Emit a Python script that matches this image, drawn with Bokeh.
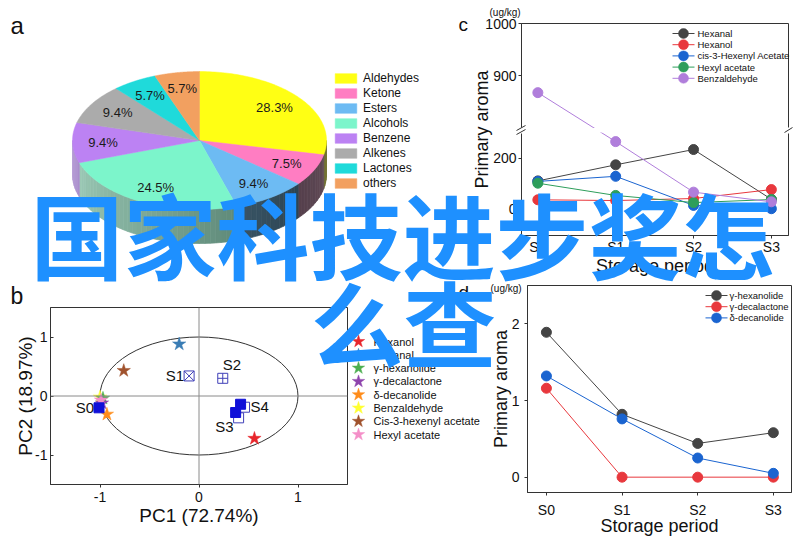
import numpy as np
from bokeh.plotting import figure
from bokeh.layouts import column
from bokeh.models import (Range1d, FixedTicker, Legend, LegendItem, Label, Span,
                          ColumnDataSource, BoxAnnotation)
from bokeh.embed import file_html
from bokeh.resources import INLINE
from bokeh.core.properties import value

W, H = 800, 538
FONT = "Liberation Sans"

# ---------------- data ----------------
pie_labels = ["Aldehydes", "Ketone", "Esters", "Alcohols", "Benzene", "Alkenes", "Lactones", "others"]
pie_values = [28.3, 7.5, 9.4, 24.5, 9.4, 9.4, 5.7, 5.7]

pca_vars = ["Hexanol", "Hexanal", "γ-hexanolide", "γ-decalactone", "δ-decanolide",
            "Benzaldehyde", "Cis-3-hexenyl acetate", "Hexyl acetate"]
pca_var_x = [0.56, -0.20, -0.97, -0.98, -0.93, -1.00, -0.76, -0.99]
pca_var_y = [-0.72, 0.88, -0.04, -0.12, -0.31, -0.02, 0.43, -0.07]

sample_names = ["S0", "S1", "S2", "S3", "S3", "S4", "S4"]
sample_x = [-1.01, -0.10, 0.24, 0.37, 0.40, 0.42, 0.46]
sample_y = [-0.20, 0.34, 0.30, -0.28, -0.37, -0.14, -0.19]

periods = ["S0", "S1", "S2", "S3"]
c_series = ["Hexanal", "Hexanol", "cis-3-Hexenyl Acetate", "Hexyl acetate", "Benzaldehyde"]
hexanal = [112, 175, 235, 40]
hexanol = [38, 35, 43, 78]
cis3_hexenyl_acetate = [110, 130, 16, 3]
hexyl_acetate = [103, 55, 27, 39]
benzaldehyde = [867, 266, 68, 30]
c_ticks = [0, 200, 900, 1000]

d_series = ["γ-hexanolide", "γ-decalactone", "δ-decanolide"]
g_hexanolide = [1.89, 0.82, 0.44, 0.58]
g_decalactone = [1.16, 0.0, 0.0, 0.0]
d_decanolide = [1.32, 0.76, 0.25, 0.05]

# ---------------- styles ----------------
pie_top_colors = ["#FFFF14", "#FF7DC2", "#6DBBF3", "#7CF5CB", "#BC82F3", "#ABABAB", "#1FDADA", "#F2A060"]
side_right = ["#7a7a38", "#604a56", "#2c4452", "#5f8a79", "#a98ccc", "#777777", "#168a8a", "#9a6a40"]
side_left = ["#6e6e30", "#55404c", "#3a5566", "#9cc9b6", "#b9a2d8", "#888888", "#20a0a0", "#b07a48"]
star_colors = ["#E8262C", "#3A7DB5", "#4CAF50", "#8E44AD", "#FF8C1A", "#FFFF33", "#A0522D", "#F48FC8"]
line_colors = ["#444444", "#E8383D", "#1A64D0", "#2E9E5B", "#B07EDB"]
d_colors = ["#444444", "#E8383D", "#1A64D0"]
AX = "#333333"
TXT = "#111111"


def make_fig(xr, yr, left, right, top, bottom, axes=True):
    kw = dict(width=W, height=H, x_range=xr, y_range=yr, output_backend="svg",
              toolbar_location=None, min_border_left=left, min_border_right=right,
              min_border_top=top, min_border_bottom=bottom, frame_align=False,
              background_fill_color=None, border_fill_color=None)
    if not axes:
        kw.update(x_axis_type=None, y_axis_type=None)
    p = figure(**kw)
    p.outline_line_color = AX if axes else None
    if axes:
        p.grid.visible = False
        for ax in p.axis:
            ax.axis_line_color = AX
            ax.major_tick_line_color = AX
            ax.minor_tick_line_color = None
            ax.major_tick_out = 3
            ax.major_tick_in = 0
            ax.major_label_text_font = FONT
            ax.major_label_text_font_size = "14px"
            ax.major_label_text_color = TXT
            ax.axis_label_text_font = FONT
            ax.axis_label_text_font_size = "18px"
            ax.axis_label_text_font_style = "normal"
            ax.axis_label_text_color = TXT
    return p


# ---------------- panel a : 3D pie ----------------
R = 127.0
CX, CY = 199.0, 140.0
K = 0.543
DEPTH = 0.268
pa = make_fig(Range1d(-CX / R, (W - CX) / R), Range1d(-(H - CY) / R, CY / R), 0, 0, 0, 0, axes=False)
pa.border_fill_color = "white"

vals = np.array(pie_values)
cum = np.concatenate([[0.0], np.cumsum(vals)]) / vals.sum()
ang = 90.0 - 360.0 * cum

def hex2rgb(h):
    h = h.lstrip("#")
    return np.array([int(h[i:i + 2], 16) for i in (0, 2, 4)], float)

def rgb2hex(c):
    return "#%02x%02x%02x" % tuple(int(round(v)) for v in c)

sxs, sys_, scol = [], [], []
for i in range(len(vals)):
    hi, lo = min(ang[i], 0.0), max(ang[i + 1], -180.0)
    if hi <= lo:
        continue
    n = max(2, int((hi - lo) / 2.5) + 1)
    th = np.linspace(hi, lo, n + 1)
    cr, cl = hex2rgb(side_right[i]), hex2rgb(side_left[i])
    for j in range(n):
        t0, t1 = np.radians(th[j]), np.radians(th[j + 1])
        xs = [np.cos(t0), np.cos(t1), np.cos(t1), np.cos(t0)]
        ys = [K * np.sin(t0), K * np.sin(t1), K * np.sin(t1) - DEPTH, K * np.sin(t0) - DEPTH]
        f = (j + 0.5) / n
        sxs.append(xs)
        sys_.append(ys)
        scol.append(rgb2hex(cr * (1 - f) + cl * f))
pa.patches(xs=sxs, ys=sys_, fill_color=scol, line_color=scol, line_width=0.7)

top_renderers = []
for i in range(len(vals)):
    th = np.radians(np.linspace(ang[i], ang[i + 1], 90))
    xs = np.concatenate([[0.0], np.cos(th)])
    ys = np.concatenate([[0.0], K * np.sin(th)])
    r = pa.patch(xs, ys, fill_color=pie_top_colors[i], line_color=pie_top_colors[i], line_width=0.5)
    top_renderers.append(r)

mid = np.radians((ang[:-1] + ang[1:]) / 2.0)
pa.text(x=0.76 * np.cos(mid), y=0.76 * K * np.sin(mid), text=["%.1f%%" % v for v in pie_values],
        text_font=value(FONT), text_font_size="13px", text_align="center",
        text_baseline="middle", text_color="#1a1a1a")

lg_a = Legend(items=[LegendItem(label=l, renderers=[r]) for l, r in zip(pie_labels, top_renderers)])
lg_a.location = (332, 348)
lg_a.glyph_width = 27
lg_a.glyph_height = 12
lg_a.label_height = 12
lg_a.spacing = 1
lg_a.label_standoff = 4
lg_a.padding = 0
lg_a.margin = 0
lg_a.border_line_color = None
lg_a.background_fill_alpha = 0
lg_a.label_text_font = FONT
lg_a.label_text_font_size = "12px"
lg_a.label_text_color = TXT
pa.add_layout(lg_a)

# ---------------- panel c : broken axis lines ----------------
LOW_MAX, UP_MIN, UP_BASE, UP_SCALE = 300, 800, 321, 2.04

def cy(v):
    return v if v <= LOW_MAX else round(UP_BASE + (v - UP_MIN) * UP_SCALE)

pc = make_fig(Range1d(-0.21, 3.22), Range1d(-102, cy(1000)), 521, 12, 23, 303)
xi = list(range(len(periods)))
c_data = [hexanal, hexanol, cis3_hexenyl_acetate, hexyl_acetate, benzaldehyde]
for name, ys, col in zip(c_series, c_data, line_colors):
    yt = [cy(v) for v in ys]
    pc.line(xi, yt, line_color=col, line_width=1)
    pc.scatter(xi, yt, size=10, fill_color=col, line_color=col)
pc.add_layout(BoxAnnotation(bottom=LOW_MAX + 2, top=UP_BASE - 2, fill_color="white",
                            fill_alpha=1, line_color=None))
pc.xaxis.ticker = FixedTicker(ticks=xi)
pc.xaxis.major_label_overrides = {i: s for i, s in zip(xi, periods)}
pc.yaxis.ticker = FixedTicker(ticks=[cy(v) for v in c_ticks])
pc.yaxis.major_label_overrides = {cy(v): str(v) for v in c_ticks}
pc.xaxis.axis_label = "Storage period"
pc.yaxis.axis_label = "Primary aroma"
pc.xaxis.major_label_standoff = 0
pc.xaxis.axis_label_standoff = -2
pc.yaxis.major_label_standoff = 2
pc.yaxis.axis_label_standoff = -10

# ---------------- panel b : PCA ----------------
pb = make_fig(Range1d(-1.5, 1.5), Range1d(-1.5, 1.5), 50, 453, 307, 54)
pb.add_layout(Span(location=0, dimension="height", line_color="#8a8a8a", line_width=1))
pb.add_layout(Span(location=0, dimension="width", line_color="#8a8a8a", line_width=1))
pb.ellipse(x=[0], y=[0], width=[2], height=[2], fill_color=None, line_color="#333333", line_width=1)
for i in [5, 2, 3, 0, 1, 6, 7, 4]:
    pb.scatter([pca_var_x[i]], [pca_var_y[i]], marker="star", size=14,
               fill_color=star_colors[i], line_color=star_colors[i], line_width=0.5)
mk = ["square", "square_x", "square_cross", "square", "square", "square", "square"]
filled = [True, False, False, True, False, True, False]
order = [i for i in range(len(sample_x)) if not filled[i]] + [i for i in range(len(sample_x)) if filled[i]]
src = ColumnDataSource(dict(
    x=[sample_x[i] for i in order], y=[sample_y[i] for i in order],
    m=[mk[i] for i in order],
    fc=["#1010D8" if filled[i] else "white" for i in order],
    lc=["#1010D8" if filled[i] else "#4040B8" for i in order]))
pb.scatter("x", "y", marker="m", size=10, fill_color="fc", line_color="lc", line_width=1, source=src)
lab_idx = [0, 1, 2, 4, 6]
lab_dx = [-5, -5, 0, -5, 6]
lab_dy = [0, 0, -14, 9, -1]
lab_al = ["right", "right", "left", "right", "left"]
pb.text(x=[sample_x[i] for i in lab_idx], y=[sample_y[i] for i in lab_idx],
        text=[sample_names[i] for i in lab_idx], x_offset=lab_dx, y_offset=lab_dy,
        text_align=lab_al, text_baseline="middle", text_font=value(FONT),
        text_font_size="15px", text_color=TXT)
pb.xaxis.ticker = FixedTicker(ticks=[-1, 0, 1])
pb.yaxis.ticker = FixedTicker(ticks=[-1, 0, 1])
pb.xaxis.major_label_overrides = {-1: "-1", 0: "0", 1: "1"}
pb.yaxis.major_label_overrides = {-1: "-1", 0: "0", 1: "1"}
pb.xaxis.axis_label = "PC1 (72.74%)"
pb.yaxis.axis_label = "PC2 (18.97%)"
for ax in pb.axis:
    ax.axis_label_text_font_size = "19px"
pb.xaxis.major_label_standoff = 4
pb.xaxis.axis_label_standoff = 0
pb.yaxis.major_tick_out = 0
pb.yaxis.major_tick_in = 3
pb.yaxis.major_label_standoff = 3
pb.yaxis.axis_label_standoff = -4

# ---------------- panel d : lines ----------------
pd_ = make_fig(Range1d(-0.25, 3.24), Range1d(-0.2, 2.5), 527, 9, 285, 40)
for name, ys, col in zip(d_series, [g_hexanolide, g_decalactone, d_decanolide], d_colors):
    pd_.line(xi, ys, line_color=col, line_width=1)
    pd_.scatter(xi, ys, size=10, fill_color=col, line_color=col)
pd_.xaxis.ticker = FixedTicker(ticks=xi)
pd_.xaxis.major_label_overrides = {i: s for i, s in zip(xi, periods)}
pd_.yaxis.ticker = FixedTicker(ticks=[0, 1, 2])
pd_.xaxis.axis_label = "Storage period"
pd_.yaxis.axis_label = "Primary aroma"
pd_.xaxis.major_label_standoff = 6
pd_.xaxis.axis_label_standoff = -5
pd_.yaxis.major_label_standoff = 5
pd_.yaxis.axis_label_standoff = -2

# ---------------- top layer: legends of b, c, d and texts ----------------
pt = make_fig(Range1d(0, W), Range1d(H, 0), 0, 0, 0, 0, axes=False)

def key_legend(names, colors, x_mark, y_first, pitch, half_line, size, font_size, marker, text_gap):
    ys = [y_first + k * pitch for k in range(len(names))]
    if half_line > 0:
        pt.segment(x0=[x_mark - half_line] * len(names), y0=ys,
                   x1=[x_mark + half_line] * len(names), y1=ys, line_color=colors, line_width=1)
    pt.scatter(x=[x_mark] * len(names), y=ys, marker=marker, size=size,
               fill_color=colors, line_color=colors, line_width=0.5)
    pt.text(x=[x_mark + text_gap] * len(names), y=ys, text=names, text_font=value(FONT),
            text_font_size=font_size, text_baseline="middle", text_align="left", text_color=TXT)

key_legend(c_series, line_colors, 683, 33, 11.2, 11, 10, "9.5px", "circle", 14)
key_legend(d_series, d_colors, 716, 295, 11.2, 11, 10, "9.5px", "circle", 13)
key_legend(pca_vars, star_colors, 358, 341, 13.3, 0, 13, "11px", "star", 15)

# axis-break marks of panel c
pt.quad(left=[518, 785], right=[524, 791], top=[127, 127], bottom=[133, 133],
        fill_color="white", line_color=None)
pt.segment(x0=[516, 516, 784], y0=[130, 134, 132], x1=[525, 525, 792], y1=[125, 129, 127],
           line_color=AX, line_width=1)

def lab(x, y, t, size, font=FONT, color=TXT, align="left", style="normal"):
    pt.add_layout(Label(x=x, y=y, text=t, text_font=font, text_font_size=size,
                        text_color=color, text_align=align, text_baseline="alphabetic",
                        text_font_style=style))

lab(10, 25, "a", "24px")
lab(10, 295, "b", "23px")
lab(458, 24, "c", "19px")
lab(458, 292, "d", "19px")
lab(489, 12, "(ug/kg)", "10px")
lab(490, 287.5, "(ug/kg)", "10px")
lab(402, 232, "国家科技进步奖怎", "93px", font="Noto Sans CJK SC", color="#1E90FF",
    align="center", style="bold")
lab(403, 320, "么查", "93px", font="Noto Sans CJK SC", color="#1E90FF",
    align="center", style="bold")

figs = [pa, pc, pb, pd_, pt]
for f in figs[1:]:
    f.margin = (-H, 0, 0, 0)
layout = column(*figs, spacing=0)
open("out.html", "w").write(file_html(layout, INLINE))
